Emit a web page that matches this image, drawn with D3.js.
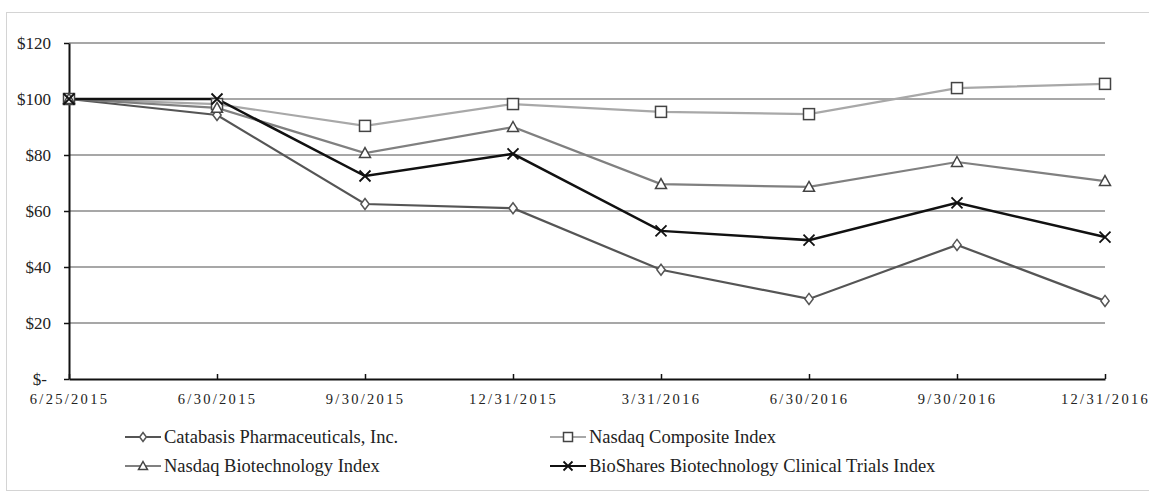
<!DOCTYPE html>
<html>
<head>
<meta charset="utf-8">
<script src="https://cdn.jsdelivr.net/npm/d3@7"></script>
<style>
  body { margin: 0; background: #fff; }
  svg { display: block; }
  svg text { font-family: "Liberation Serif", "Times New Roman", Times, "DejaVu Serif", serif; }
</style>
</head>
<body>
<div id="chart"></div>
<script>
// data
const dates = ['6/25/2015', '6/30/2015', '9/30/2015', '12/31/2015', '3/31/2016', '6/30/2016', '9/30/2016', '12/31/2016'];
const catabasis = [100, 94.3, 62.5, 61, 39, 28.6, 47.9, 27.9];
const nasdaqComposite = [100, 98.2, 90.4, 98.2, 95.4, 94.6, 103.9, 105.4];
const nasdaqBiotech = [100, 96.8, 80.7, 90, 69.6, 68.6, 77.5, 70.7];
const bioShares = [100, 100, 72.5, 80.4, 52.9, 49.6, 62.9, 50.7];
const yTicks = [0, 20, 40, 60, 80, 100, 120];

const seriesList = [
  { name: 'Catabasis Pharmaceuticals, Inc.', values: catabasis, color: '#555555', marker: 'diamond' },
  { name: 'Nasdaq Composite Index', values: nasdaqComposite, color: '#a8a8a8', marker: 'square' },
  { name: 'Nasdaq Biotechnology Index', values: nasdaqBiotech, color: '#808080', marker: 'triangle' },
  { name: 'BioShares Biotechnology Clinical Trials Index', values: bioShares, color: '#111111', marker: 'cross' }
];

const width = 1149, height = 498;
const margin = { top: 43, right: 44, bottom: 119, left: 69 };

const svg = d3.select('#chart').append('svg')
  .attr('width', width)
  .attr('height', height);

// outer frame
svg.append('rect')
  .attr('x', 6.5).attr('y', 12.5)
  .attr('width', 1160).attr('height', 478)
  .attr('fill', 'none')
  .attr('stroke', '#d4d4d4');

const x = d3.scalePoint()
  .domain(dates)
  .range([margin.left, width - margin.right]);

const y = d3.scaleLinear()
  .domain([0, 120])
  .range([height - margin.bottom, margin.top]);

// gridlines
svg.append('g')
  .selectAll('line')
  .data(yTicks.filter(d => d > 0))
  .enter()
  .append('line')
  .attr('x1', margin.left)
  .attr('x2', width - margin.right)
  .attr('y1', d => y(d))
  .attr('y2', d => y(d))
  .attr('stroke', '#8a8a8a')
  .attr('stroke-width', 1.5);

// y axis
const yAxis = svg.append('g')
  .attr('transform', `translate(${margin.left},0)`)
  .call(d3.axisLeft(y).tickValues(yTicks).tickSize(5).tickSizeOuter(0)
    .tickFormat(d => d === 0 ? '$-' : '$' + d));
yAxis.attr('font-family', null);
yAxis.select('.domain').attr('stroke', '#111').attr('stroke-width', 2);
yAxis.selectAll('.tick line').attr('stroke', '#111').attr('stroke-width', 1.5);
yAxis.selectAll('.tick text')
  .attr('x', d => d === 0 ? -22 : -18)
  .attr('fill', '#222')
  .style('font-size', '17px');

// x axis
const xAxis = svg.append('g')
  .attr('transform', `translate(0,${y(0)})`)
  .call(d3.axisBottom(x).tickSize(-5).tickSizeOuter(0));
xAxis.attr('font-family', null);
xAxis.select('.domain').attr('stroke', '#111').attr('stroke-width', 2);
xAxis.selectAll('.tick line').attr('stroke', '#111').attr('stroke-width', 1.5);
xAxis.selectAll('.tick text')
  .attr('y', 15)
  .attr('fill', '#222')
  .style('font-size', '14.5px')
  .style('letter-spacing', '2.3px');

function drawMarker(g, type, color, size) {
  const s = size;
  if (type === 'diamond') {
    g.append('path')
      .attr('d', `M0,${-s}L${s * 0.75},0L0,${s}L${-s * 0.75},0Z`)
      .attr('fill', '#fff').attr('stroke', color).attr('stroke-width', 1.5);
  } else if (type === 'square') {
    g.append('rect')
      .attr('x', -s).attr('y', -s).attr('width', 2 * s).attr('height', 2 * s)
      .attr('fill', '#fff').attr('stroke', '#444').attr('stroke-width', 1.5);
  } else if (type === 'triangle') {
    g.append('path')
      .attr('d', `M0,${-s}L${s},${s * 0.8}L${-s},${s * 0.8}Z`)
      .attr('fill', '#fff').attr('stroke', '#444').attr('stroke-width', 1.5);
  } else {
    g.append('path')
      .attr('d', `M${-s},${-s}L${s},${s}M${-s},${s}L${s},${-s}`)
      .attr('stroke', color).attr('stroke-width', 1.8);
  }
}

const line = d3.line()
  .x((d, i) => x(dates[i]))
  .y(d => y(d));

seriesList.forEach(s => {
  svg.append('path')
    .datum(s.values)
    .attr('fill', 'none')
    .attr('stroke', s.color)
    .attr('stroke-width', s.marker === 'cross' ? 2.5 : 2.2)
    .attr('d', line);
});

seriesList.forEach(s => {
  s.values.forEach((v, i) => {
    const g = svg.append('g').attr('transform', `translate(${x(dates[i])},${y(v)})`);
    drawMarker(g, s.marker, s.color, 5.5);
  });
});

// legend
const legendPos = [[125, 437], [550, 437], [125, 466], [550, 466]];
seriesList.forEach((s, k) => {
  const [lx, ly] = legendPos[k];
  const g = svg.append('g').attr('transform', `translate(${lx},${ly})`);
  g.append('line')
    .attr('x1', 0).attr('x2', 36).attr('y1', 0).attr('y2', 0)
    .attr('stroke', s.color).attr('stroke-width', 2.2);
  const m = g.append('g').attr('transform', 'translate(18,0)');
  drawMarker(m, s.marker, s.color, 4.5);
  g.append('text')
    .attr('x', 39).attr('y', 6)
    .attr('fill', '#222')
    .style('font-size', '18.5px')
    .text(s.name);
});
</script>
</body>
</html>
